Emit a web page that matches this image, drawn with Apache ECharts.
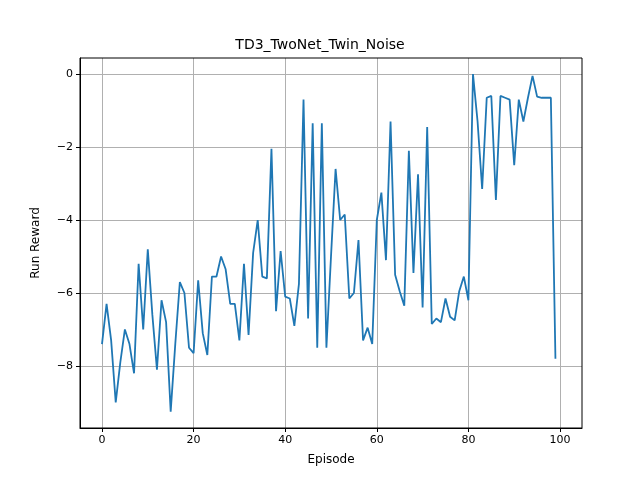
<!DOCTYPE html>
<html><head><meta charset="utf-8">
<script src="https://cdn.jsdelivr.net/npm/echarts@6/dist/echarts.min.js"></script>
<style>html,body{margin:0;padding:0;background:#fff}#c{width:640px;height:480px}</style>
</head><body><div id="c"></div>
<script>
const rewards = [-7.4,-6.3,-7.3,-9.0,-7.9,-7.0,-7.4,-8.2,-5.2,-7.0,-4.8,-6.6,-8.1,-6.2,-6.8,-9.25,-7.4,-5.7,-6.0,-7.5,
-7.65,-5.65,-7.1,-7.7,-5.55,-5.55,-5.0,-5.35,-6.3,-6.3,-7.3,-5.2,-7.15,-4.9,-4.0,-5.55,-5.6,-2.05,-6.5,-4.85,
-6.1,-6.15,-6.9,-5.75,-0.7,-6.7,-1.35,-7.5,-1.35,-7.5,-5.0,-2.6,-4.0,-3.85,-6.15,-6.0,-4.55,-7.3,-6.95,-7.4,
-4.0,-3.25,-5.1,-1.3,-5.5,-5.95,-6.35,-2.1,-5.45,-2.75,-6.4,-1.45,-6.85,-6.7,-6.8,-6.15,-6.65,-6.75,-5.95,-5.55,
-6.2,0.0,-1.3,-3.15,-0.65,-0.6,-3.45,-0.6,-0.65,-0.7,-2.5,-0.7,-1.3,-0.65,-0.05,-0.62,-0.65,-0.65,-0.65,-7.8];
const xTicks = [0,20,40,60,80,100];
const yTicks = [-8,-6,-4,-2,0];
const data = rewards.map((v,i)=>[i,v]);
const font = 'DejaVu Sans';
const chart = echarts.init(document.getElementById('c'));
chart.setOption({
  animation:false,
  title:{text:'TD3_TwoNet_Twin_Noise',left:'center',top:33,textStyle:{fontFamily:font,fontSize:14,fontWeight:'normal',color:'#000'}},
  grid:{left:80,right:58,top:58,bottom:52},
  xAxis:{type:'value',min:-4.8,max:104.8,name:'Episode',nameLocation:'middle',nameGap:26,
    nameTextStyle:{fontFamily:font,fontSize:12,color:'#000'},
    axisLine:{onZero:false,lineStyle:{color:'#000'}},
    axisTick:{customValues:xTicks,length:4,lineStyle:{color:'#000'}},
    axisLabel:{customValues:xTicks,fontFamily:font,fontSize:11,color:'#000',margin:7},
    splitLine:{show:true,lineStyle:{color:'#b0b0b0',width:1}}},
  yAxis:{type:'value',min:-9.70,max:0.44,name:'Run Reward',nameLocation:'middle',nameGap:38,
    nameTextStyle:{fontFamily:font,fontSize:12,color:'#000'},
    axisLine:{show:true,onZero:false,lineStyle:{color:'#000'}},
    axisTick:{show:true,customValues:yTicks,length:4,lineStyle:{color:'#000'}},
    axisLabel:{customValues:yTicks,fontFamily:font,fontSize:11,color:'#000',margin:7,formatter:v=>v<0?'\u2212'+(-v):''+v},
    splitLine:{show:true,lineStyle:{color:'#b0b0b0',width:1}}},
  series:[{type:'line',data:data,symbol:'none',lineStyle:{color:'#1f77b4',width:1.8}}]
});
// frame
chart.setOption({graphic:[{type:'rect',shape:{x:80,y:58,width:502,height:370},style:{fill:'none',stroke:'#000',lineWidth:1},silent:true}]});
</script></body></html>
